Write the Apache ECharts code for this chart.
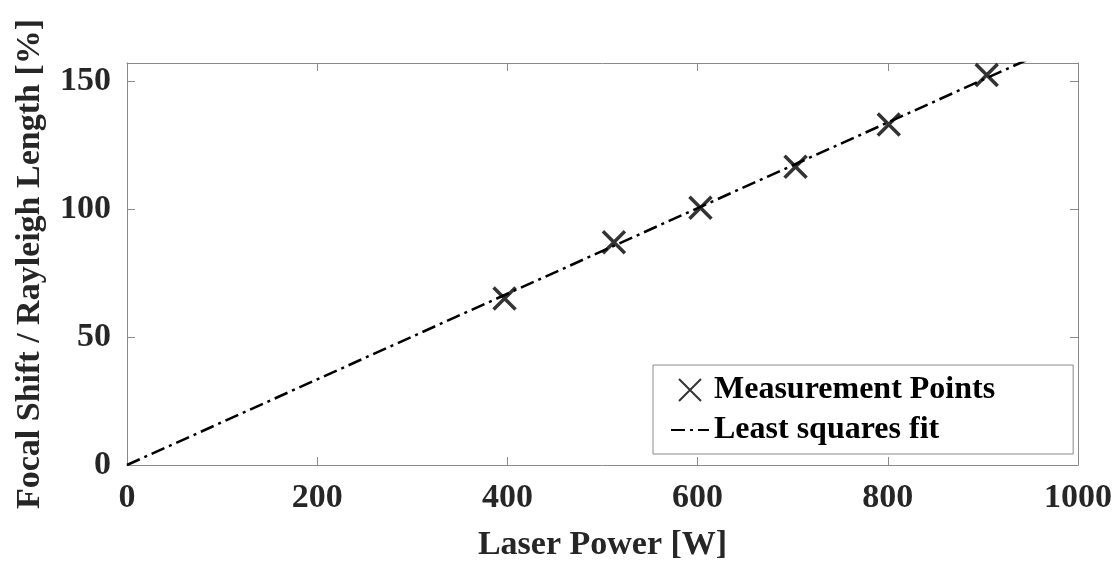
<!DOCTYPE html>
<html>
<head>
<meta charset="utf-8">
<script src="https://cdn.jsdelivr.net/npm/echarts@6/dist/echarts.min.js"></script>
<style>
  html, body { margin: 0; padding: 0; background: #fff; }
  #chart { width: 1120px; height: 562px; }
</style>
</head>
<body>
<div id="chart"></div>
<script>
const powerW = [397, 512, 603, 703, 801, 904]
const shiftPct = [65, 87, 100.5, 116.5, 133, 152.3]
// least squares fit line endpoints
const fitX = [0, 1000]
const fitY = [0, 167.2]
const xTicks = [0, 200, 400, 600, 800, 1000]
const yTicks = [0, 50, 100, 150]

const font = 'Liberation Serif'
const axisGray = '#8a8a8a'
const textCol = '#262626'
const crossPath = 'path://M0,0L20,20M20,0L0,20'

const myChart = echarts.init(document.getElementById('chart'))

const tickCommon = { show: true, inside: true, length: 8, lineStyle: { color: axisGray, width: 1 } }
const lineCommon = { show: true, onZero: false, lineStyle: { color: axisGray, width: 1 } }

myChart.setOption({
    animation: false,
    backgroundColor: '#fff',
    grid: { left: 127, right: 42, top: 63, bottom: 97, containLabel: false, outerBoundsMode: 'none' },
    legend: {
        orient: 'vertical',
        left: 653, top: 365,
        padding: [9, 78, 8, 17],
        itemGap: 8,
        itemWidth: 38, itemHeight: 22,
        borderColor: axisGray, borderWidth: 1,
        backgroundColor: '#fff',
        textStyle: { fontFamily: font, fontWeight: 'bold', fontSize: 32, color: '#000' },
        data: [
            { name: 'Measurement Points' },
            { name: 'Least squares fit', itemStyle: { color: 'rgba(0,0,0,0)', borderWidth: 0 } }
        ]
    },
    xAxis: [{
        type: 'value', min: xTicks[0], max: xTicks[xTicks.length - 1], interval: 200,
        name: 'Laser Power [W]', nameLocation: 'middle', nameGap: 63,
        nameTextStyle: { fontFamily: font, fontWeight: 'bold', fontSize: 34, color: textCol },
        axisLine: lineCommon,
        axisTick: tickCommon,
        axisLabel: { margin: 16, formatter: v => String(v), fontFamily: font, fontWeight: 'bold', fontSize: 34, color: textCol },
        splitLine: { show: false }
    }, {
        type: 'value', position: 'top', min: 0, max: 1000, interval: 200,
        axisLine: lineCommon,
        axisTick: tickCommon, axisLabel: { show: false }, splitLine: { show: false }
    }],
    yAxis: [{
        type: 'value', min: yTicks[0], max: 157, interval: 50,
        name: 'Focal Shift / Rayleigh Length [%]', nameLocation: 'middle', nameGap: 80,
        nameTextStyle: { fontFamily: font, fontWeight: 'bold', fontSize: 34, color: textCol },
        axisLine: lineCommon,
        axisTick: tickCommon,
        axisLabel: { margin: 16, showMaxLabel: false, fontFamily: font, fontWeight: 'bold', fontSize: 34, color: textCol },
        splitLine: { show: false }
    }, {
        type: 'value', position: 'right', min: 0, max: 157, interval: 50,
        axisLine: lineCommon,
        axisTick: tickCommon, axisLabel: { show: false }, splitLine: { show: false }
    }],
    series: [{
        name: 'Least squares fit',
        type: 'line',
        data: fitX.map((x, i) => [x, fitY[i]]),
        symbol: 'none',
        clip: true,
        lineStyle: { color: '#000', width: 2.5, type: [14, 5, 3, 5] },
        itemStyle: { color: '#000' },
        z: 2
    }, {
        name: 'Measurement Points',
        type: 'scatter',
        data: powerW.map((x, i) => [x, shiftPct[i]]),
        symbol: crossPath,
        symbolSize: 22,
        itemStyle: { color: 'none', borderColor: '#000', borderWidth: 3.5 },
        z: 3
    }]
})
</script>
</body>
</html>
